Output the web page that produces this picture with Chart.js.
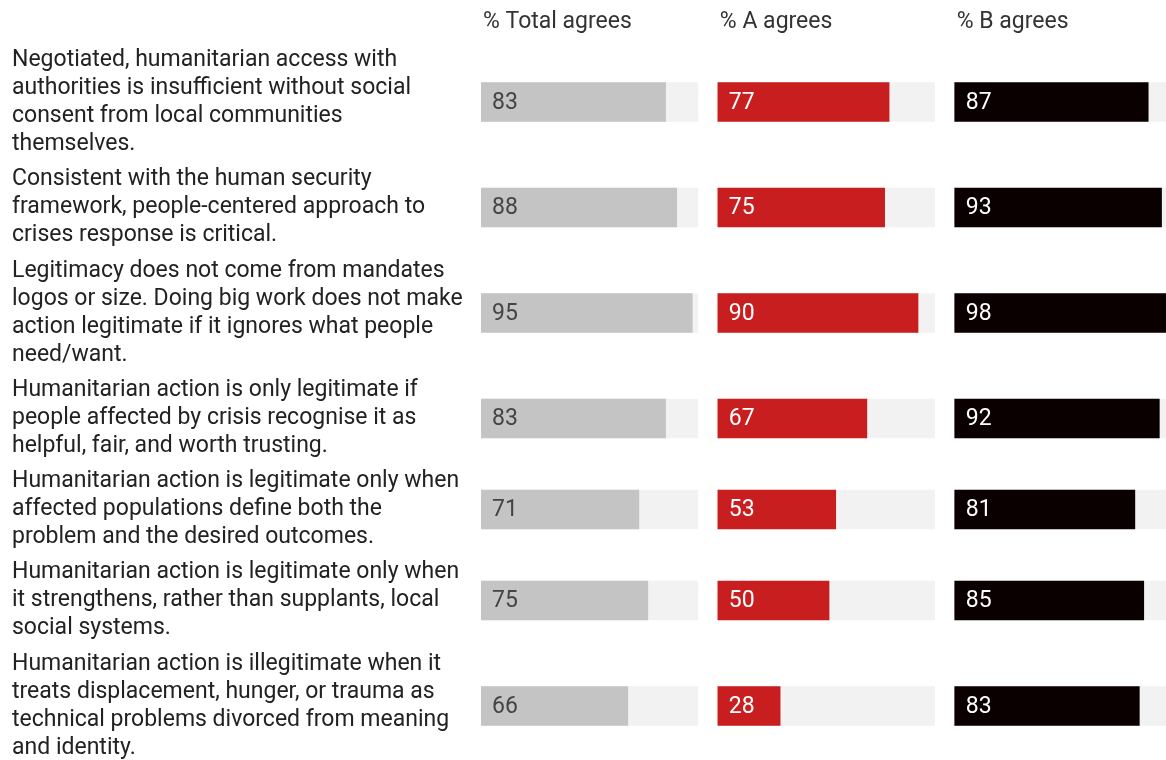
<!DOCTYPE html>
<html>
<head>
<meta charset="utf-8">
<script src="https://cdn.jsdelivr.net/npm/chart.js@4.4.1/dist/chart.umd.min.js"></script>
<style>
html, body { margin: 0; padding: 0; background: #fff; }
#wrap { position: relative; width: 1166px; height: 760px; }
</style>
</head>
<body>
<div id="wrap"><canvas id="agreeChart"></canvas></div>
<script>
// statements, already broken into the lines they are shown on
var statements = [
    ["Negotiated, humanitarian access with", "authorities is insufficient without social", "consent from local communities", "themselves."],
    ["Consistent with the human security", "framework, people-centered approach to", "crises response is critical."],
    ["Legitimacy does not come from mandates", "logos or size. Doing big work does not make", "action legitimate if it ignores what people", "need/want."],
    ["Humanitarian action is only legitimate if", "people affected by crisis recognise it as", "helpful, fair, and worth trusting."],
    ["Humanitarian action is legitimate only when", "affected populations define both the", "problem and the desired outcomes."],
    ["Humanitarian action is legitimate only when", "it strengthens, rather than supplants, local", "social systems."],
    ["Humanitarian action is illegitimate when it", "treats displacement, hunger, or trauma as", "technical problems divorced from meaning", "and identity."]
];

var seriesNames = ["% Total agrees", "% A agrees", "% B agrees"];
var totalAgrees = [83, 88, 95, 83, 71, 75, 66];
var aAgrees = [77, 75, 90, 67, 53, 50, 28];
var bAgrees = [87, 93, 98, 92, 81, 85, 83];

var seriesValues = [totalAgrees, aAgrees, bAgrees];
var barColors = ["#c4c4c4", "#c91e1f", "#0b0000"];
var numberColors = ["#444444", "#ffffff", "#ffffff"];

// layout: each column is 0-100 on a shared x scale, shifted by colStep
var colStep = 106.5;
var trackLen = 97.5;
var xMax = 308;
var firstRowTop = 42;
var lineGap = 28;
var textFont = "23px Roboto";

// row height grows with the number of text lines
var rowCenters = [];
var rowTop = firstRowTop;
statements.forEach(function (lines) {
    var h = 29 * lines.length + 4;
    rowCenters.push(rowTop + h / 2);
    rowTop += h;
});

var datasets = [];
seriesValues.forEach(function (vals, c) {
    datasets.push({
        label: seriesNames[c],
        data: vals.map(function (v, r) {
            return { x: [c * colStep, c * colStep + v], y: rowCenters[r] };
        }),
        backgroundColor: barColors[c],
        order: 1
    });
});

var trackData = [];
seriesValues.forEach(function (vals, c) {
    vals.forEach(function (v, r) {
        trackData.push({ x: [c * colStep, c * colStep + trackLen], y: rowCenters[r] });
    });
});
datasets.push({
    label: "track",
    data: trackData,
    backgroundColor: "#f2f2f2",
    order: 2
});

var textLayer = {
    id: "textLayer",
    afterDatasetsDraw: function (chart) {
        var ctx = chart.ctx;
        var xs = chart.scales.x;
        var ys = chart.scales.y;
        ctx.save();
        ctx.font = textFont;
        ctx.textBaseline = "middle";
        ctx.textAlign = "left";

        // statements on the left, centred on their row
        ctx.fillStyle = "#222222";
        statements.forEach(function (lines, r) {
            var cy = ys.getPixelForValue(rowCenters[r]);
            lines.forEach(function (line, j) {
                ctx.fillText(line, 12, cy + (j - (lines.length - 1) / 2) * lineGap);
            });
        });

        // column headers
        ctx.fillStyle = "#333333";
        seriesNames.forEach(function (name, c) {
            ctx.fillText(name, xs.getPixelForValue(c * colStep) + 2, 22);
        });

        // numbers inside the bars
        seriesValues.forEach(function (vals, c) {
            var meta = chart.getDatasetMeta(c);
            ctx.fillStyle = numberColors[c];
            meta.data.forEach(function (bar, i) {
                var p = bar.getProps(["base", "y"], true);
                ctx.fillText(String(vals[i]), p.base + 11, p.y + 1);
            });
        });
        ctx.restore();
    }
};

var ctx = document.getElementById("agreeChart").getContext("2d");
var agreeChart = new Chart(ctx, {
    type: "bar",
    data: { datasets: datasets },
    options: {
        indexAxis: "y",
        responsive: true,
        maintainAspectRatio: false,
        animation: false,
        layout: { padding: { left: 481, right: 0, top: 0, bottom: 0 } },
        datasets: {
            bar: {
                barThickness: 39,
                grouped: false,
                borderWidth: 0
            }
        },
        plugins: {
            legend: { display: false },
            tooltip: { enabled: false }
        },
        scales: {
            x: {
                type: "linear",
                display: false,
                min: 0,
                max: xMax
            },
            y: {
                type: "linear",
                display: false,
                offset: false,
                reverse: true,
                min: 0,
                max: 760
            }
        }
    },
    plugins: [textLayer]
});
</script>
</body>
</html>
